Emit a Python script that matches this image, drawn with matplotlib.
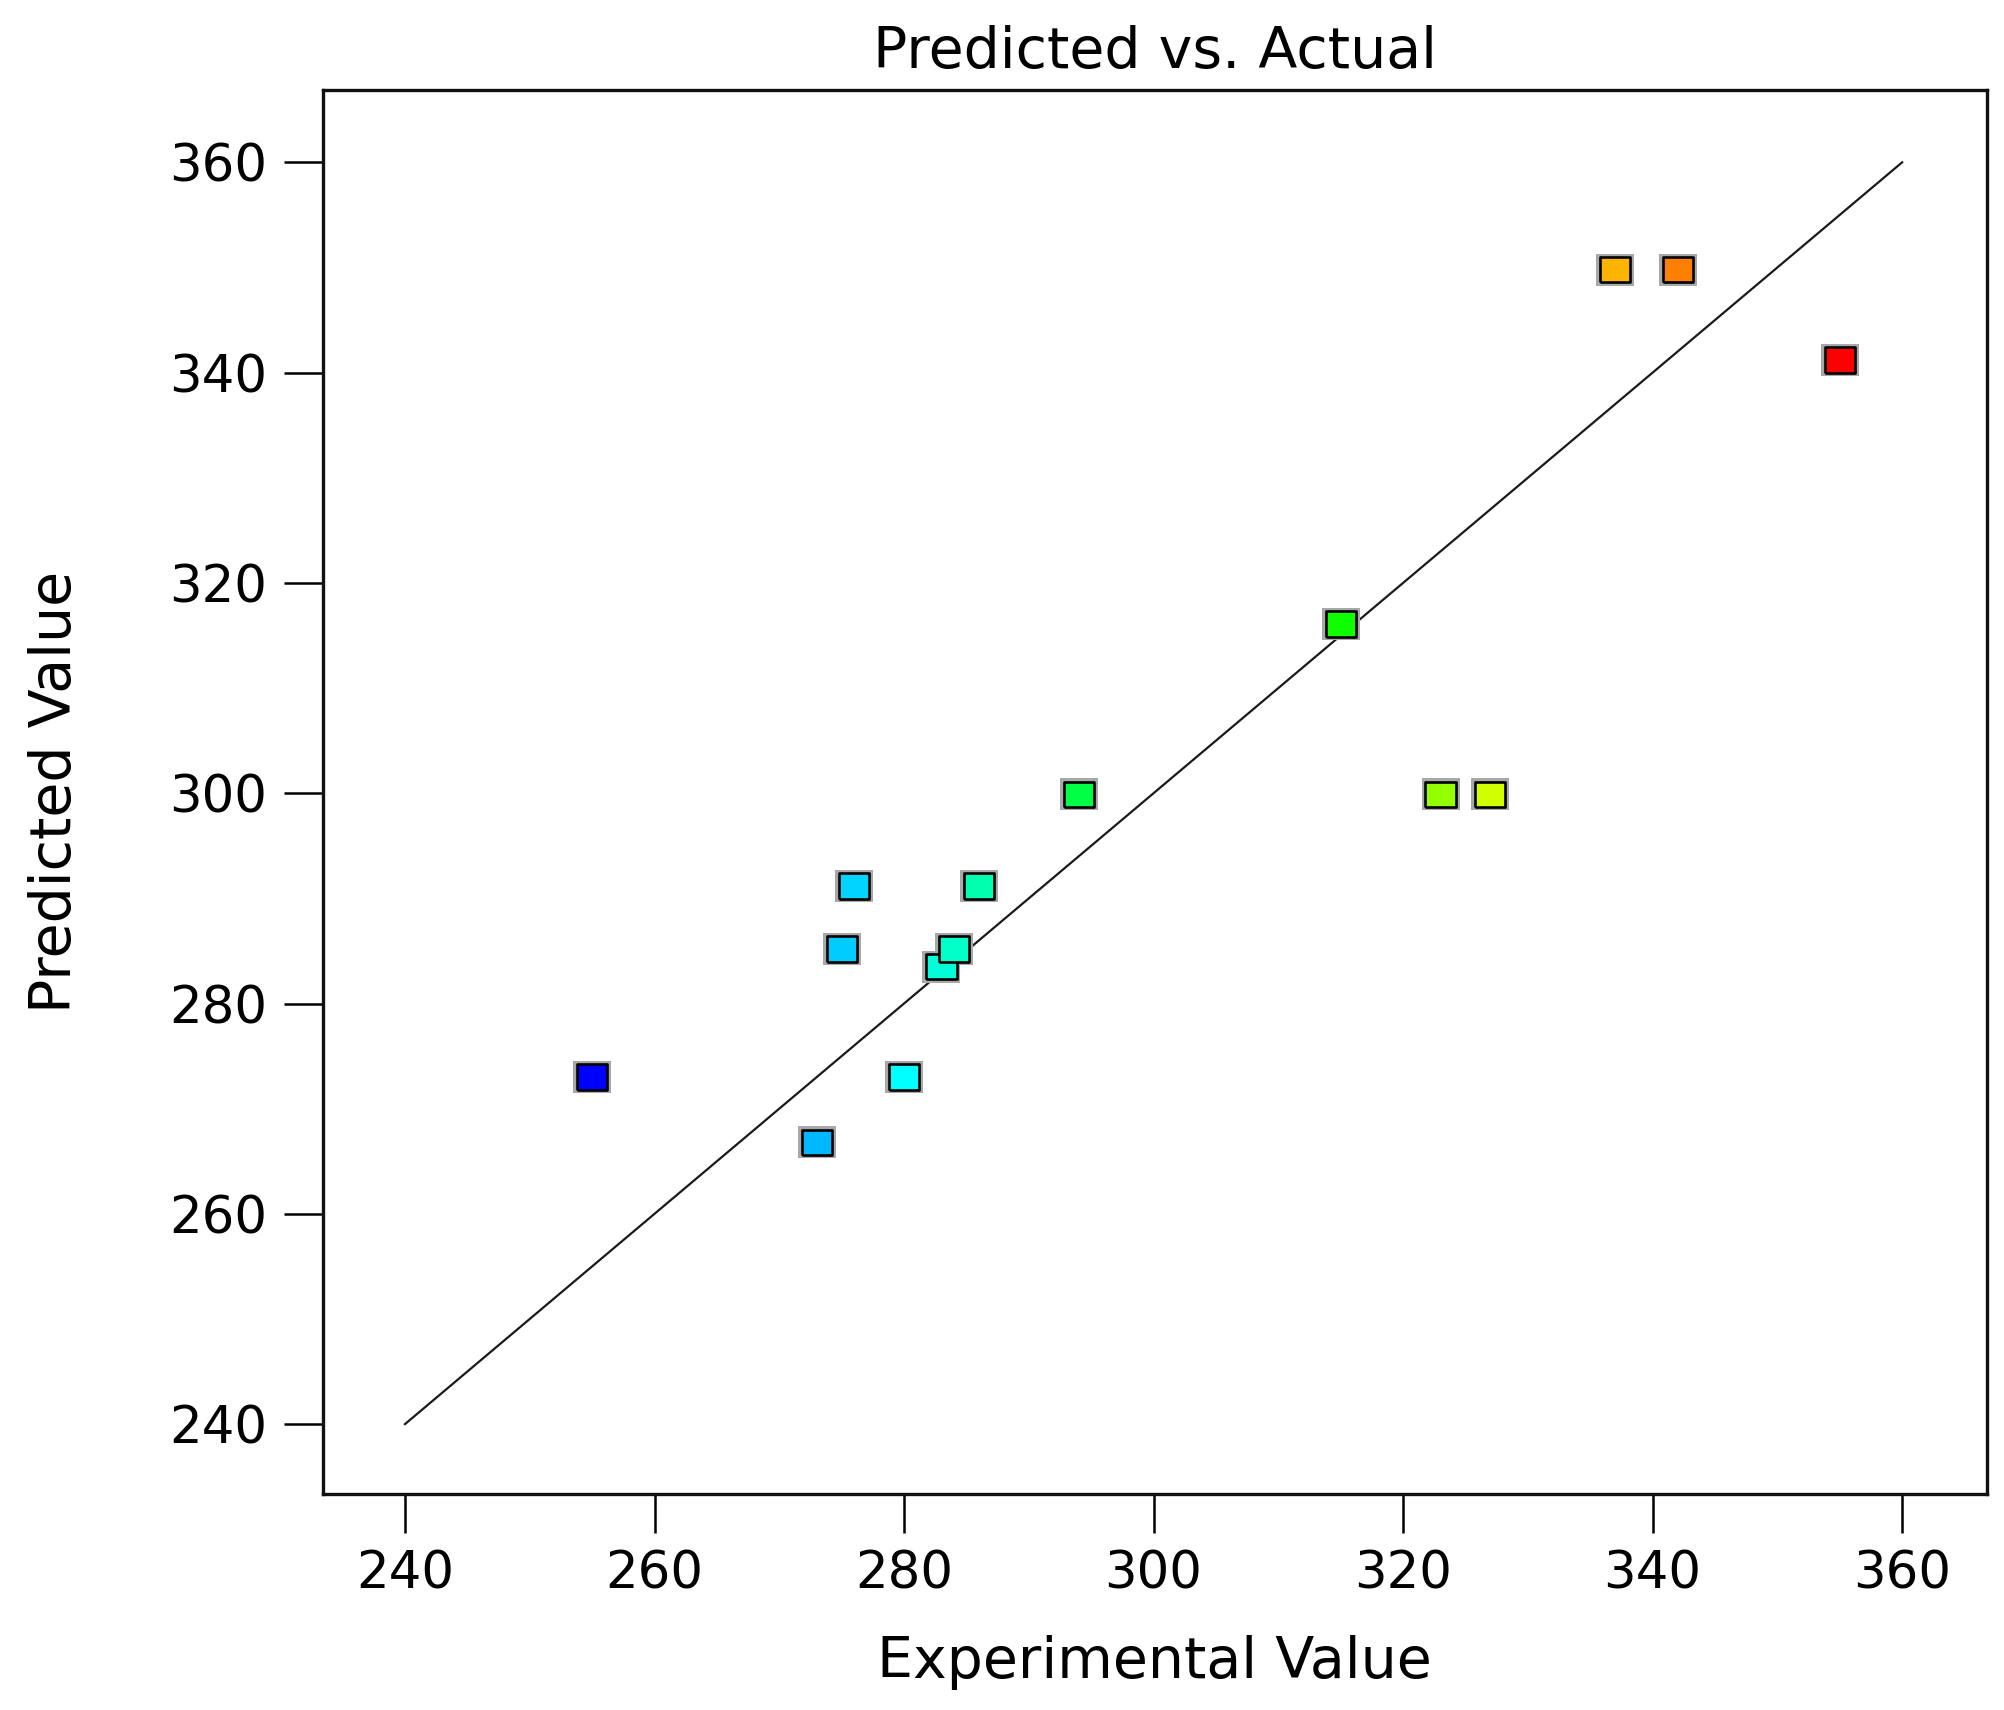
import matplotlib
matplotlib.use('Agg')
import matplotlib.pyplot as plt
import numpy as np
from matplotlib.colors import LinearSegmentedColormap, Normalize

# === Данные: экспериментальные и предсказанные значения ===
actual = [255, 273, 275, 276, 280, 283, 284, 286, 294, 315, 323, 327, 337, 342, 355]
predicted = [273.0, 266.8, 285.2, 291.2, 273.0, 283.5, 285.2, 291.2, 299.9,
             316.1, 299.9, 299.9, 349.8, 349.8, 341.2]
ticks = [240, 260, 280, 300, 320, 340, 360]
line_range = [240, 360]

plt.rcParams['font.family'] = ['DejaVu Sans']

# Градиент в стиле Design-Expert (синий -> голубой -> зелёный -> жёлтый -> красный)
vmin, vmax = min(actual), max(actual)
nodes = [(255, '#0000ff'), (280, '#00ffff'), (299, '#00ff00'), (314, '#00ff00'),
         (330, '#ffff00'), (354, '#ff0000'), (355, '#ff0000')]
cmap = LinearSegmentedColormap.from_list(
    'de', [((v - vmin) / (vmax - vmin), c) for v, c in nodes])
norm = Normalize(vmin, vmax)

fig = plt.figure(figsize=(20.04, 17.10), dpi=100)
ax = fig.add_axes([0.161, 0.1266, 0.8305, 0.8209])

# Линия y = x
ax.plot(line_range, line_range, color='#1a1a1a', linewidth=1.6, zorder=2)

# Квадратные маркеры (немного шире, чем выше, как на оригинале)
box = [(-1.18, -1), (1.18, -1), (1.18, 1), (-1.18, 1), (-1.18, -1)]
ax.scatter(actual, predicted, marker=box, s=720, color='#a8a8a8', linewidths=0, zorder=3)
ax.scatter(actual, predicted, marker=box, s=470, c=actual, cmap=cmap, norm=norm,
           edgecolors='black', linewidths=1.9, zorder=4)

ax.set_xlim(233.4, 366.8)
ax.set_ylim(233.4, 366.9)
ax.set_xticks(ticks)
ax.set_yticks(ticks)
ax.tick_params(axis='both', direction='out', length=28, width=1.8, labelsize=37,
               pad=12, colors='black')

for sp in ax.spines.values():
    sp.set_linewidth(2.4)
    sp.set_color('#111111')

ax.set_title('Predicted vs. Actual', fontsize=41, pad=16)
ax.set_xlabel('Experimental Value', fontsize=41, labelpad=26)
ax.set_ylabel('Predicted Value', fontsize=41, labelpad=62)

plt.savefig('out.png', dpi=100)
